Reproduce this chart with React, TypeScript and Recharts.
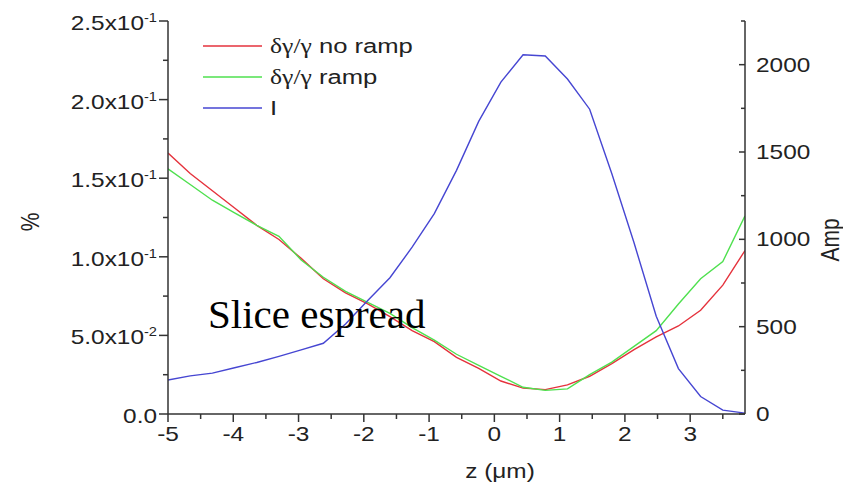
import { LineChart, Line, XAxis, YAxis } from "recharts";

// Beam slice energy spread (left axis, %) and current profile (right axis, A)
const zValues = [
  -5, -4.66, -4.32, -3.98, -3.64, -3.3, -2.96, -2.62, -2.28, -1.94, -1.6, -1.26, -0.92, -0.58,
  -0.24, 0.1, 0.44, 0.78, 1.12, 1.46, 1.8, 2.14, 2.48, 2.82, 3.16, 3.5, 3.84,
];
const spreadNoRamp = [
  0.166, 0.153, 0.142, 0.131, 0.12, 0.111, 0.099, 0.086, 0.077, 0.07, 0.062, 0.053, 0.046, 0.036,
  0.029, 0.021, 0.0165, 0.0155, 0.0185, 0.024, 0.032, 0.041, 0.049, 0.056, 0.066, 0.082, 0.104,
];
const spreadRamp = [
  0.156, 0.146, 0.136, 0.128, 0.12, 0.113, 0.098, 0.087, 0.078, 0.071, 0.064, 0.055, 0.047, 0.038,
  0.031, 0.024, 0.017, 0.015, 0.016, 0.025, 0.033, 0.043, 0.053, 0.07, 0.086, 0.097, 0.126,
];
const current = [
  195, 218, 234, 265, 295, 330, 367, 405, 515, 650, 780, 955, 1147, 1395, 1675, 1900, 2057, 2050,
  1918, 1745, 1375, 980, 560, 260, 100, 22, 5,
];

const xMajorTicks = [-5, -4, -3, -2, -1, 0, 1, 2, 3];
const xMinorTicks = [-4.5, -3.5, -2.5, -1.5, -0.5, 0.5, 1.5, 2.5, 3.5];
const leftMajorTicks = [0, 0.05, 0.1, 0.15, 0.2, 0.25];
const leftMantissas = ["0.0", "5.0x10", "1.0x10", "1.5x10", "2.0x10", "2.5x10"];
const leftExponents = ["", "-2", "-1", "-1", "-1", "-1"];
const leftMinorTicks = [0.025, 0.075, 0.125, 0.175, 0.225];
const rightMajorTicks = [0, 500, 1000, 1500, 2000];
const rightMinorTicks = [250, 750, 1250, 1750, 2250];

const series = [
  { key: "noRamp", greek: "δγ/γ", rest: " no ramp", color: "#e5323c" },
  { key: "ramp", greek: "δγ/γ", rest: " ramp", color: "#4fe04f" },
  { key: "amp", greek: "", rest: "I", color: "#4646d2" },
];

const data = zValues.map((z, i) => ({
  z,
  noRamp: spreadNoRamp[i],
  ramp: spreadRamp[i],
  amp: current[i],
}));

const AXIS = "#333";
const SANS = "'Liberation Sans', Arial, sans-serif";
const SERIF = "'Liberation Serif', 'Times New Roman', serif";
const SX = 1.22;

const byNum = (a: number, b: number) => a - b;

function LeftTick(props: any) {
  const { x, y, payload } = props;
  const i = leftMajorTicks.indexOf(payload.value);
  const len = i >= 0 ? 9 : 5;
  return (
    <g>
      <line x1={x - len} x2={x} y1={y} y2={y} stroke={AXIS} strokeWidth={1.5} />
      {i >= 0 && (
        <g transform={`translate(${x - 11},${y + 9}) scale(${SX},1)`}>
          <text textAnchor="end" fontSize={20} fontFamily={SANS} fill="#222">
            <tspan>{leftMantissas[i]}</tspan>
            {leftExponents[i] && (
              <tspan dy={-8} fontSize={12}>
                {leftExponents[i]}
              </tspan>
            )}
          </text>
        </g>
      )}
    </g>
  );
}

function RightTick(props: any) {
  const { x, y, payload } = props;
  const major = rightMajorTicks.includes(payload.value);
  const len = major ? 6 : 4;
  return (
    <g>
      <line x1={x - len} x2={x} y1={y} y2={y} stroke={AXIS} strokeWidth={1.5} />
      {major && (
        <g transform={`translate(${x + 11},${y + 7}) scale(${SX},1)`}>
          <text textAnchor="start" fontSize={20} fontFamily={SANS} fill="#222">
            {payload.value}
          </text>
        </g>
      )}
    </g>
  );
}

function BottomTick(props: any) {
  const { x, y, payload } = props;
  const major = xMajorTicks.includes(payload.value);
  const len = major ? 8 : 5;
  return (
    <g>
      <line x1={x} x2={x} y1={y} y2={y + len} stroke={AXIS} strokeWidth={1.5} />
      {major && (
        <g transform={`translate(${x},${y + 27}) scale(${SX},1)`}>
          <text textAnchor="middle" fontSize={20} fontFamily={SANS} fill="#222">
            {payload.value}
          </text>
        </g>
      )}
    </g>
  );
}

export default function App() {
  return (
    <div style={{ position: "relative", width: 843, height: 489, background: "#fff" }}>
      <style>{"body{margin:0}"}</style>
      <LineChart width={843} height={489} data={data} margin={{ top: 21, right: 28, bottom: 25, left: 38 }}>
        <XAxis
          dataKey="z"
          type="number"
          domain={[-5, 3.84]}
          allowDataOverflow
          ticks={[...xMajorTicks, ...xMinorTicks].sort(byNum)}
          interval={0}
          tick={<BottomTick />}
          tickSize={0}
          tickMargin={0}
          tickLine={false}
          axisLine={{ stroke: AXIS, strokeWidth: 1.5 }}
          height={50}
        />
        <YAxis
          yAxisId="left"
          domain={[0, 0.25]}
          ticks={[...leftMajorTicks, ...leftMinorTicks].sort(byNum)}
          interval={0}
          tick={<LeftTick />}
          tickSize={0}
          tickMargin={0}
          tickLine={false}
          axisLine={{ stroke: AXIS, strokeWidth: 1.5 }}
          width={130}
        />
        <YAxis
          yAxisId="right"
          orientation="right"
          domain={[0, 2250]}
          ticks={[...rightMajorTicks, ...rightMinorTicks].sort(byNum)}
          interval={0}
          tick={<RightTick />}
          tickSize={0}
          tickMargin={0}
          tickLine={false}
          axisLine={{ stroke: AXIS, strokeWidth: 1.5 }}
          width={70}
        />
        <Line yAxisId="left" dataKey="noRamp" stroke={series[0].color} strokeWidth={1.4} dot={false} isAnimationActive={false} />
        <Line yAxisId="left" dataKey="ramp" stroke={series[1].color} strokeWidth={1.4} dot={false} isAnimationActive={false} />
        <Line yAxisId="right" dataKey="amp" stroke={series[2].color} strokeWidth={1.4} dot={false} isAnimationActive={false} />
      </LineChart>
      <svg width={843} height={489} style={{ position: "absolute", left: 0, top: 0, pointerEvents: "none" }}>
        {/* legend */}
        {series.map((s, i) => {
          const y = 46 + i * 31;
          return (
            <g key={s.key}>
              <line x1={203} x2={262} y1={y} y2={y} stroke={s.color} strokeWidth={1.5} />
              <g transform={`translate(270,${y + 7}) scale(${SX},1)`}>
                <text fontSize={21} fontFamily={SANS} fill="#222">
                  {s.greek && <tspan fontFamily={SERIF}>{s.greek}</tspan>}
                  <tspan>{s.rest}</tspan>
                </text>
              </g>
            </g>
          );
        })}
        {/* axis titles */}
        <g transform={`translate(30,222) rotate(-90) scale(1,${SX})`}>
          <text textAnchor="middle" y={7} fontSize={21} fontFamily={SANS} fill="#222">%</text>
        </g>
        <g transform={`translate(830,240) rotate(-90) scale(1,${SX})`}>
          <text textAnchor="middle" y={7} fontSize={21} fontFamily={SANS} fill="#222">Amp</text>
        </g>
        <g transform={`translate(500,478) scale(${SX},1)`}>
          <text textAnchor="middle" fontSize={20} fontFamily={SANS} fill="#222">z (μm)</text>
        </g>
        <text x={208} y={328} fontSize={41} fontFamily={SERIF} fill="#000">Slice espread</text>
      </svg>
    </div>
  );
}
